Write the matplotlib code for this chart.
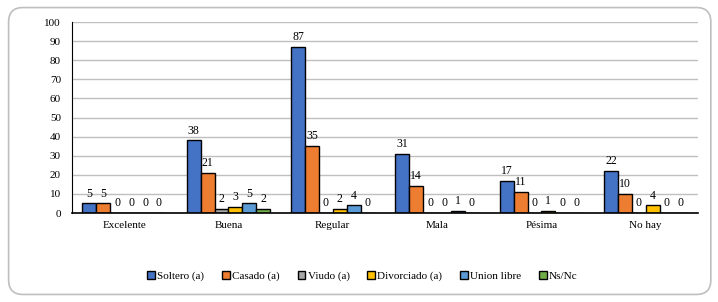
import matplotlib
matplotlib.use("Agg")
import matplotlib.pyplot as plt
from matplotlib.patches import FancyBboxPatch
import numpy as np

categories = ["Excelente", "Buena", "Regular", "Mala", "Pésima", "No hay"]
series_names = ["Soltero (a)", "Casado (a)", "Viudo (a)", "Divorciado (a)", "Union libre", "Ns/Nc"]
soltero = [5, 38, 87, 31, 17, 22]
casado = [5, 21, 35, 14, 11, 10]
viudo = [0, 2, 0, 0, 0, 0]
divorciado = [0, 3, 2, 0, 1, 4]
union_libre = [0, 5, 4, 1, 0, 0]
ns_nc = [0, 2, 0, 0, 0, 0]
series = [soltero, casado, viudo, divorciado, union_libre, ns_nc]
colors = ["#4472C4", "#ED7D31", "#A5A5A5", "#FFC000", "#5B9BD5", "#70AD47"]

plt.rcParams['font.family'] = ['Liberation Serif', 'DejaVu Serif']

fig = plt.figure(figsize=(7.18, 3.02), dpi=100)
border = FancyBboxPatch((0.012, 0.025), 0.978, 0.95, boxstyle="round,pad=0,rounding_size=0.02",
                        transform=fig.transFigure, facecolor="white", edgecolor="#BFBFBF",
                        linewidth=1.2, mutation_aspect=718/302, zorder=-10)
fig.patches.append(border)

ax = fig.add_axes([0.1003, 0.2947, 0.8717, 0.6323])
ax.set_zorder(5)
ax.patch.set_alpha(0)
x = np.arange(len(categories))
n = len(series)
w = 0.8 / n
for i, (vals, c, name) in enumerate(zip(series, colors, series_names)):
    pos = x - 0.4 + w * (i + 0.5)
    bars = ax.bar(pos, vals, width=w, color=c, edgecolor="black", linewidth=1.0, label=name)
    for p, v in zip(pos, vals):
        ax.text(p, v + 2, str(v), ha="center", va="bottom", fontsize=8.5)

ax.set_xlim(-0.5, len(categories) - 0.5)
ax.set_ylim(0, 100)
ax.set_yticks(range(0, 101, 10))
ax.set_xticks(x)
ax.set_xticklabels(categories, fontsize=8)
ax.tick_params(axis="y", labelsize=8, length=0, pad=8)
ax.tick_params(axis="x", length=0, pad=6)
ax.yaxis.grid(True, color="#BFBFBF", linewidth=1.0)
ax.set_axisbelow(True)
for s in ["top", "right"]:
    ax.spines[s].set_visible(False)
ax.spines["left"].set_color("black")
ax.spines["bottom"].set_color("black")
ax.spines["bottom"].set_linewidth(1.2)

leg = fig.legend(loc="center", bbox_to_anchor=(0.505, 0.085), ncol=6, frameon=False,
                 fontsize=8, handlelength=0.7, handleheight=0.7, handletextpad=0.2,
                 columnspacing=1.6)
leg.set_zorder(6)
for h in leg.legend_handles:
    h.set_edgecolor("black")

fig.savefig("out.png", dpi=100)
